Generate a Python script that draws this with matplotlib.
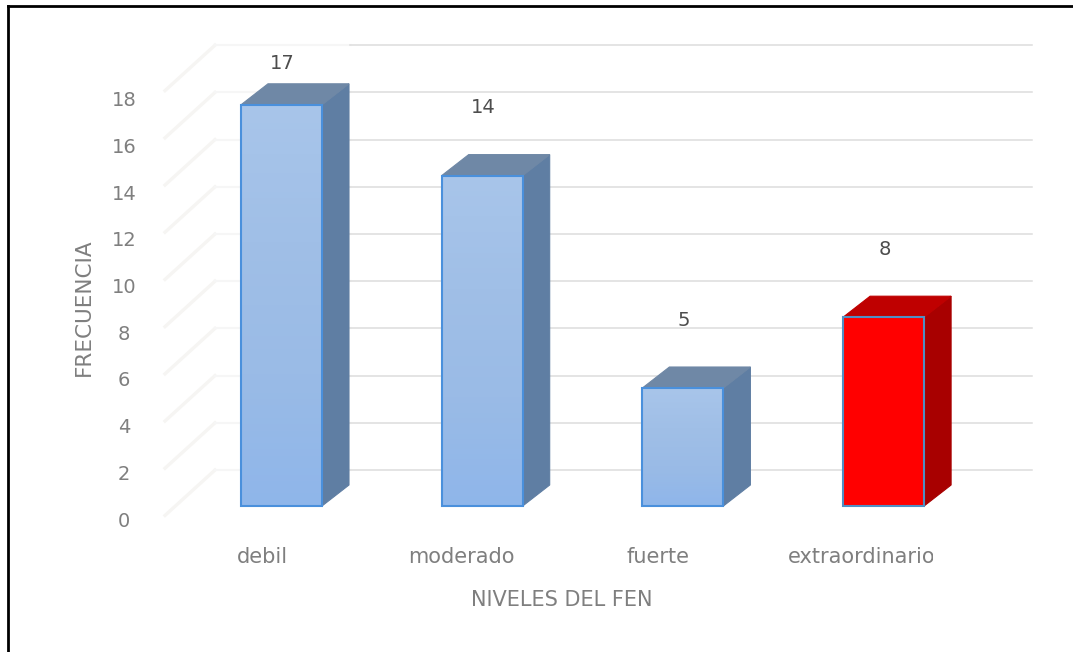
#!/usr/bin/env python3

import matplotlib
matplotlib.use("Agg")
import matplotlib.pyplot as plt
from matplotlib.colors import LinearSegmentedColormap
from matplotlib.patches import Polygon, Rectangle
from matplotlib.lines import Line2D
from matplotlib.transforms import IdentityTransform
import numpy as np

categories = ["debil", "moderado", "fuerte", "extraordinario"]
values = [17, 14, 5, 8]
yticks = [0, 2, 4, 6, 8, 10, 12, 14, 16, 18]

W, H = 1073, 652
XSTEP = 200.7   # px per category
YSTEP = 23.6    # px per unit
X0 = 281.5      # px of first category
Y0 = 506        # px of front baseline

BARW = 81 / XSTEP
DX = 27 / XSTEP
DY = 21 / YSTEP
WALL = 36 / YSTEP  # back wall offset

plt.rcParams['font.family'] = ['DejaVu Sans']

fig = plt.figure(figsize=(W / 100, H / 100), dpi=100)
ax = fig.add_axes([0, 0, 1, 1])
ax.set_xlim(-X0 / XSTEP, (W - X0) / XSTEP)
ax.set_ylim(-(H - Y0) / YSTEP, Y0 / YSTEP)
ax.axis("off")

wall_left = (215 - X0) / XSTEP
wall_split = (350 - X0) / XSTEP
wall_right = (1032 - X0) / XSTEP
tick_left = (165 - X0) / XSTEP
tick_col = "#7f7f7f"

# back wall grid, faded diagonals on the left
for v in yticks:
    ax.plot([tick_left, wall_left], [v - 0.4, v + WALL], color="#f6f5f3", lw=2.4, zorder=1)
    ax.plot([wall_left, wall_split], [v + WALL, v + WALL], color="#f6f6f6", lw=1.5, zorder=1)
    ax.plot([wall_split, wall_right], [v + WALL, v + WALL], color="#dcdcdc", lw=1.1, zorder=1)
    ax.text((124 - X0) / XSTEP, v * 0.99 - 0.64, str(v), ha="center", va="center",
            fontsize=14, color=tick_col, zorder=3)

blue = LinearSegmentedColormap.from_list("front", ["#a8c5ea", "#a0bfe7", "#9abbe6", "#8fb6ea"])
grad = np.linspace(0, 1, 64).reshape(-1, 1)

label_shift = [-19, -21, -25, -22]

for i, (cat, val) in enumerate(zip(categories, values)):
    left = i - BARW / 2
    right = i + BARW / 2
    red = cat == "extraordinario"
    side_col = "#a80000" if red else "#5f7ea3"
    top_col = "#bf0000" if red else "#6f88a6"
    edge = "#4f8fc4" if red else "#4a90dc"

    ax.add_patch(Polygon([(right, 0), (right + DX, DY), (right + DX, val + DY), (right, val)],
                         fc=side_col, ec=side_col, lw=0.8, zorder=4))
    ax.add_patch(Polygon([(left, val), (left + DX, val + DY), (right + DX, val + DY), (right, val)],
                         fc=top_col, ec=top_col, lw=0.8, zorder=4))
    if red:
        ax.add_patch(Rectangle((left, 0), BARW, val, fc="#ff0000", ec="none", zorder=5))
    else:
        ax.imshow(grad, cmap=blue, extent=(left, right, 0, val), aspect="auto",
                  origin="upper", zorder=5)
    ax.add_patch(Rectangle((left, 0), BARW, val, fc="none", ec=edge, lw=1.5, zorder=6))

    # value label sits above the bar
    ax.text(i + 1 / XSTEP, val + (41 if i == 0 else 68) / YSTEP, str(val), ha="center", va="center",
            fontsize=14, color="#4d4d4d", zorder=7)

    # category labels
    t = ax.text(i + label_shift[i] / XSTEP, -(557 - Y0) / YSTEP,
                cat, ha="center", va="center", fontsize=15, color=tick_col, zorder=7)
    if red:
        # last letter is cut off in the picture
        t.set_clip_path(Rectangle((0, 0), 933, H, transform=IdentityTransform()))
        t.set_clip_on(True)

ax.set_xlim(-X0 / XSTEP, (W - X0) / XSTEP)
ax.set_ylim(-(H - Y0) / YSTEP, Y0 / YSTEP)

fig.text(84 / W, 1 - 307 / H, "FRECUENCIA", rotation=90, ha="center", va="center",
         fontsize=15.5, color=tick_col)
fig.text(562 / W, 1 - 600 / H, "NIVELES DEL FEN", ha="center", va="center",
         fontsize=15, color=tick_col)

# only top and left of the frame are there
fig.add_artist(Line2D([8 / W, 1], [1 - 6 / H, 1 - 6 / H], color="black", lw=2.0))
fig.add_artist(Line2D([8 / W, 8 / W], [1 - 6 / H, 0], color="black", lw=2.0))

fig.savefig("out.png", dpi=100)
